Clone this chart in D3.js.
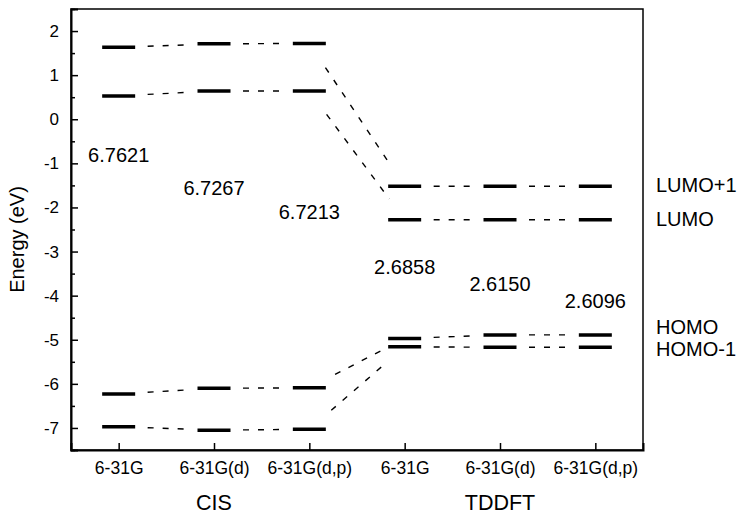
<!DOCTYPE html>
<html>
<head>
<meta charset="utf-8">
<script src="https://cdn.jsdelivr.net/npm/d3@7"></script>
<style>
  body { margin: 0; background: #fff; }
  text { font-family: "Liberation Sans", Arial, sans-serif; fill: #000; }
</style>
</head>
<body>
<svg id="chart" width="744" height="517"></svg>
<script>
// basis sets and method groups
const basis = ["6-31G", "6-31G(d)", "6-31G(d,p)", "6-31G", "6-31G(d)", "6-31G(d,p)"];
const groups = ["CIS", "TDDFT"];
const groupOf = [0, 0, 0, 1, 1, 1];

// orbital energies (eV)
const lumo1 = [1.63, 1.71, 1.72, -1.52, -1.52, -1.52];
const lumo  = [0.53, 0.64, 0.64, -2.28, -2.28, -2.28];
const homo  = [-6.23, -6.10, -6.09, -4.97, -4.89, -4.89];
const homo1 = [-6.97, -7.05, -7.03, -5.16, -5.17, -5.17];

// gap labels and where they sit (eV)
const gapText = ["6.7621", "6.7267", "6.7213", "2.6858", "2.6150", "2.6096"];
const gapAt   = [-0.98, -1.71, -2.26, -3.51, -3.90, -4.28];

// level names on the right side
const levelNames = ["LUMO+1", "LUMO", "HOMO", "HOMO-1"];
const levelNameAt = [-1.5, -2.26, -4.72, -5.21];

const yTicks = [-7, -6, -5, -4, -3, -2, -1, 0, 1, 2];

const margin = { top: 9, right: 101, bottom: 67, left: 71 },
  width = 744 - margin.left - margin.right,
  height = 517 - margin.top - margin.bottom;

const svg = d3.select("#chart");
const g = svg.append("g")
  .attr("transform", "translate(" + margin.left + "," + margin.top + ")");

const idx = d3.range(basis.length);

var x = d3.scalePoint()
  .domain(idx)
  .range([0, width])
  .padding(0.5);

var y = d3.scaleLinear()
  .domain([-7.5, 2.5])
  .range([height, 0]);

// frame
g.append("rect")
  .attr("width", width)
  .attr("height", height)
  .attr("fill", "none")
  .attr("stroke", "#000")
  .attr("stroke-width", 1.5);

// y axis, major + minor ticks pointing inward
const yAxis = g.append("g")
  .call(d3.axisLeft(y).tickValues(yTicks).tickSize(-7).tickPadding(12).tickFormat(d => String(d)));
yAxis.selectAll("text").attr("font-size", 17);
g.append("g")
  .call(d3.axisLeft(y).tickValues(d3.range(-7.5, 2.6, 1)).tickSize(-4).tickFormat(""))
  .select(".domain").remove();

// x axis
const xAxis = g.append("g")
  .attr("transform", "translate(0," + height + ")")
  .call(d3.axisBottom(x).tickSize(-7).tickPadding(12).tickFormat(i => basis[i]));
xAxis.selectAll("text").attr("font-size", 17.5);

g.selectAll(".domain").attr("stroke-width", 2);
g.selectAll(".tick line").attr("stroke-width", 1.5);

// group titles under the axis
groups.forEach((name, k) => {
  const members = idx.filter(i => groupOf[i] === k);
  g.append("text")
    .attr("x", d3.mean(members, i => x(i)))
    .attr("y", height + 60)
    .attr("text-anchor", "middle")
    .attr("font-size", 21.5)
    .text(name);
});

// y label
g.append("text")
  .attr("transform", "translate(-47," + (height / 2 + 10) + ") rotate(-90)")
  .attr("text-anchor", "middle")
  .attr("font-size", 20)
  .text("Energy (eV)");

const levels = [lumo1, lumo, homo, homo1];
const half = 16.5;

// dashed connectors between neighbouring columns
const trimA = 29, trimB = 26;
levels.forEach(vals => {
  for (let i = 0; i < vals.length - 1; i++) {
    const x1 = x(i), y1 = y(vals[i]), x2 = x(i + 1), y2 = y(vals[i + 1]);
    const len = Math.hypot(x2 - x1, y2 - y1);
    const ux = (x2 - x1) / len, uy = (y2 - y1) / len;
    g.append("line")
      .attr("x1", x1 + ux * trimA).attr("y1", y1 + uy * trimA)
      .attr("x2", x2 - ux * trimB).attr("y2", y2 - uy * trimB)
      .attr("stroke", "#000")
      .attr("stroke-width", 1.4)
      .attr("stroke-dasharray", "6,9");
  }
});

// energy levels
levels.forEach(vals => {
  g.selectAll(null)
    .data(vals)
    .enter()
    .append("line")
    .attr("x1", (d, i) => x(i) - half)
    .attr("x2", (d, i) => x(i) + half)
    .attr("y1", d => y(d))
    .attr("y2", d => y(d))
    .attr("stroke", "#000")
    .attr("stroke-width", 3.5);
});

// gap values
g.selectAll(".gap")
  .data(gapText)
  .enter()
  .append("text")
  .attr("class", "gap")
  .attr("x", (d, i) => x(i))
  .attr("y", (d, i) => y(gapAt[i]))
  .attr("text-anchor", "middle")
  .attr("font-size", 20)
  .text(d => d);

// level names
g.selectAll(".lname")
  .data(levelNames)
  .enter()
  .append("text")
  .attr("class", "lname")
  .attr("x", width + 13)
  .attr("y", (d, i) => y(levelNameAt[i]))
  .attr("dy", "0.35em")
  .attr("font-size", 20)
  .text(d => d);
</script>
</body>
</html>
